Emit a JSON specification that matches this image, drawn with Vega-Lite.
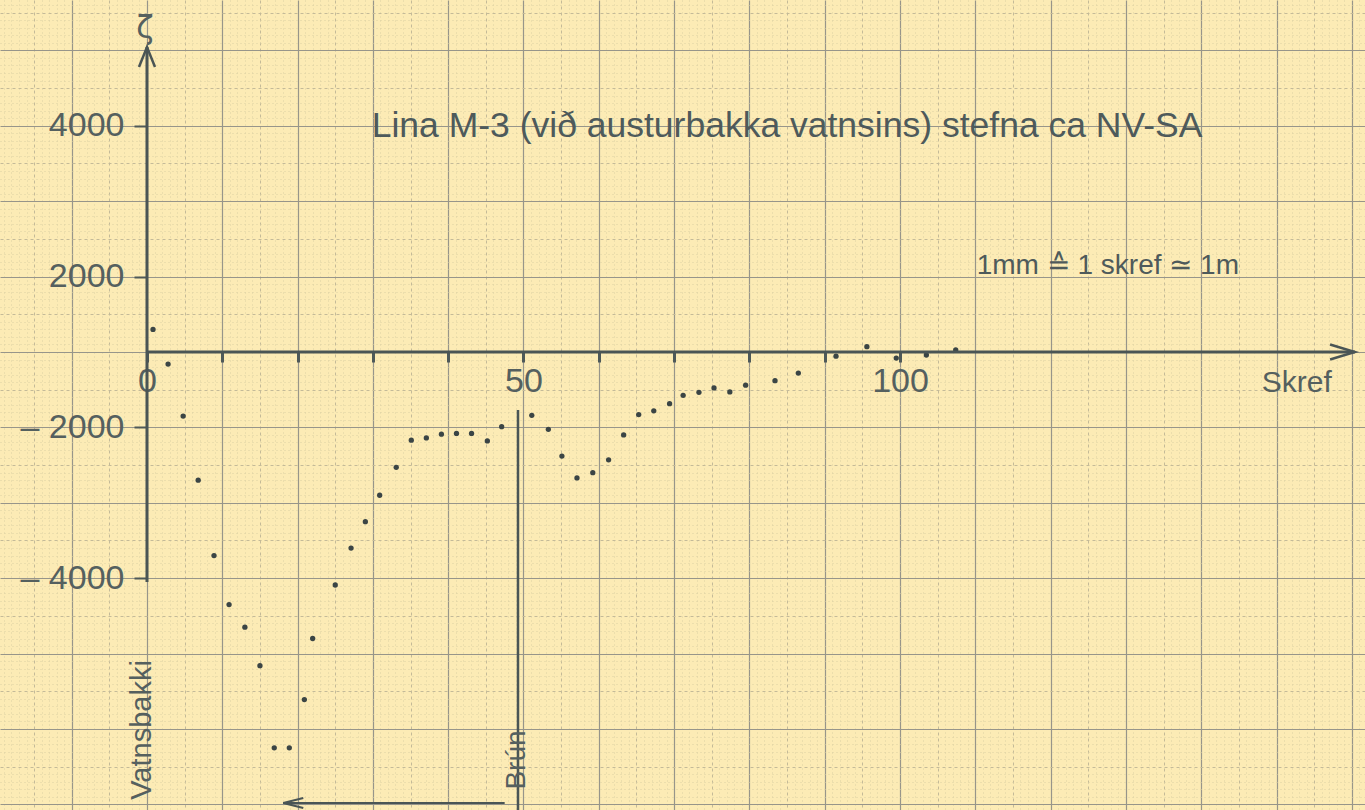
{
  "$schema": "https://vega.github.io/schema/vega-lite/v6.json",
  "width": 1365,
  "height": 810,
  "autosize": "none",
  "padding": 0,
  "background": "#fcebb5",
  "config": {"view": {"stroke": null}},
  "datasets": {
    "pts": [
      {"skref": 0.8, "zeta": 300}, {"skref": 2.8, "zeta": -160}, {"skref": 4.8, "zeta": -850},
      {"skref": 6.8, "zeta": -1700}, {"skref": 8.9, "zeta": -2700}, {"skref": 10.9, "zeta": -3350},
      {"skref": 13.0, "zeta": -3650}, {"skref": 15.0, "zeta": -4160}, {"skref": 16.9, "zeta": -5250},
      {"skref": 18.9, "zeta": -5250}, {"skref": 20.9, "zeta": -4610}, {"skref": 22.0, "zeta": -3800},
      {"skref": 25.0, "zeta": -3090}, {"skref": 27.1, "zeta": -2600}, {"skref": 29.0, "zeta": -2250},
      {"skref": 30.9, "zeta": -1900}, {"skref": 33.1, "zeta": -1530}, {"skref": 35.1, "zeta": -1170},
      {"skref": 37.1, "zeta": -1140}, {"skref": 39.1, "zeta": -1090}, {"skref": 41.1, "zeta": -1080},
      {"skref": 43.1, "zeta": -1080}, {"skref": 45.2, "zeta": -1180}, {"skref": 47.1, "zeta": -990},
      {"skref": 51.1, "zeta": -840}, {"skref": 53.3, "zeta": -1025}, {"skref": 55.1, "zeta": -1380},
      {"skref": 57.1, "zeta": -1670}, {"skref": 59.2, "zeta": -1600}, {"skref": 61.3, "zeta": -1430},
      {"skref": 63.3, "zeta": -1100}, {"skref": 65.3, "zeta": -830}, {"skref": 67.3, "zeta": -780},
      {"skref": 69.4, "zeta": -685}, {"skref": 71.2, "zeta": -575}, {"skref": 73.3, "zeta": -535},
      {"skref": 75.3, "zeta": -477}, {"skref": 77.4, "zeta": -530}, {"skref": 79.5, "zeta": -440},
      {"skref": 83.4, "zeta": -380}, {"skref": 86.5, "zeta": -280}, {"skref": 91.5, "zeta": -55},
      {"skref": 95.6, "zeta": 70}, {"skref": 99.5, "zeta": -80}, {"skref": 103.5, "zeta": -40},
      {"skref": 107.4, "zeta": 27}
    ]
  },
  "resolve": {"axis": {"x": "independent", "y": "independent"}},
  "layer": [
    {
      "data": {"name": "pts"},
      "mark": {"type": "point", "opacity": 0},
      "encoding": {
        "x": {
          "field": "skref", "type": "quantitative",
          "scale": {"domain": [-19.52, 161.75], "nice": false, "zero": false},
          "axis": {
            "orient": "bottom", "title": null, "labels": false, "ticks": false, "domain": false,
            "grid": true,
            "values": [-20,-19,-18,-17,-16,-15,-14,-13,-12,-11,-10,-9,-8,-7,-6,-5,-4,-3,-2,-1,0,1,2,3,4,5,6,7,8,9,10,11,12,13,14,15,16,17,18,19,20,21,22,23,24,25,26,27,28,29,30,31,32,33,34,35,36,37,38,39,40,41,42,43,44,45,46,47,48,49,50,51,52,53,54,55,56,57,58,59,60,61,62,63,64,65,66,67,68,69,70,71,72,73,74,75,76,77,78,79,80,81,82,83,84,85,86,87,88,89,90,91,92,93,94,95,96,97,98,99,100,101,102,103,104,105,106,107,108,109,110,111,112,113,114,115,116,117,118,119,120,121,122,123,124,125,126,127,128,129,130,131,132,133,134,135,136,137,138,139,140,141,142,143,144,145,146,147,148,149,150,151,152,153,154,155,156,157,158,159,160,161,162],
            "gridColor": {"condition": [{"test": "datum.value % 10 === 0", "value": "#97958a"}, {"test": "datum.value % 5 === 0", "value": "#c4ba98"}], "value": "#ddd1a2"},
            "gridDash": {"condition": [{"test": "datum.value % 10 === 0", "value": []}, {"test": "datum.value % 5 === 0", "value": [3, 3]}], "value": [1, 3]},
            "gridWidth": {"condition": [{"test": "datum.value % 10 === 0", "value": 1.2}], "value": 1},
            "gridOpacity": 1
          }
        },
        "y": {
          "field": "zeta", "type": "quantitative",
          "scale": {"domain": [-6074.3, 4668.4], "nice": false, "zero": false},
          "axis": {
            "orient": "left", "title": null, "labels": false, "ticks": false, "domain": false,
            "grid": true,
            "values": [-6100,-6000,-5900,-5800,-5700,-5600,-5500,-5400,-5300,-5200,-5100,-5000,-4900,-4800,-4700,-4600,-4500,-4400,-4300,-4200,-4100,-4000,-3900,-3800,-3700,-3600,-3500,-3400,-3300,-3200,-3100,-3000,-2900,-2800,-2700,-2600,-2500,-2400,-2300,-2200,-2100,-2000,-1900,-1800,-1700,-1600,-1500,-1400,-1300,-1200,-1100,-1000,-900,-800,-700,-600,-500,-400,-300,-200,-100,0,100,200,300,400,500,600,700,800,900,1000,1100,1200,1300,1400,1500,1600,1700,1800,1900,2000,2100,2200,2300,2400,2500,2600,2700,2800,2900,3000,3100,3200,3300,3400,3500,3600,3700,3800,3900,4000,4100,4200,4300,4400,4500,4600,4700],
            "gridColor": {"condition": [{"test": "datum.value % 1000 === 0", "value": "#97958a"}, {"test": "datum.value % 500 === 0", "value": "#c4ba98"}], "value": "#ddd1a2"},
            "gridDash": {"condition": [{"test": "datum.value % 1000 === 0", "value": []}, {"test": "datum.value % 500 === 0", "value": [3, 3]}], "value": [1, 3]},
            "gridWidth": {"condition": [{"test": "datum.value % 1000 === 0", "value": 1.2}], "value": 1},
            "gridOpacity": 1
          }
        }
      }
    },
    {
      "data": {"name": "pts"},
      "mark": {"type": "circle", "color": "#3b4545", "size": 28, "opacity": 1},
      "encoding": {
        "x": {
          "field": "skref", "type": "quantitative",
          "scale": {"domain": [-19.52, 161.75], "nice": false, "zero": false},
          "axis": {
            "orient": "bottom", "offset": -458, "title": null, "domain": false, "grid": false,
            "values": [0, 10, 20, 30, 40, 50, 60, 70, 80, 90, 100],
            "labelExpr": "datum.value == 0 || datum.value == 50 || datum.value == 100 ? datum.label : ''",
            "labelOverlap": false, "labelFlush": false, "labelBound": false,
            "tickSize": 10, "tickWidth": 3, "tickColor": "#4e5959",
            "labelFont": "Liberation Sans", "labelFontSize": 34, "labelColor": "#55605f", "labelPadding": 2
          }
        },
        "y": {
          "field": "zeta", "type": "quantitative",
          "scale": {"domain": [-6074.3, 4668.4], "nice": false, "zero": false},
          "axis": {
            "orient": "left", "offset": -147, "title": null, "domain": false, "grid": false,
            "values": [3000, 1000, -1000, -3000],
            "labelExpr": "datum.value == 3000 ? '4000' : datum.value == 1000 ? '2000' : datum.value == -1000 ? '–  2000' : '–  4000'",
            "labelOverlap": false, "labelFlush": false, "labelBound": false,
            "tickSize": 13, "tickWidth": 2, "tickColor": "#4e5959",
            "labelFont": "Liberation Sans", "labelFontSize": 34, "labelColor": "#55605f", "labelPadding": 10
          }
        }
      }
    },
    {
      "data": {"values": [{}]},
      "mark": {"type": "rule", "color": "#4a5555", "strokeWidth": 3},
      "encoding": {
        "x": {"datum": 0, "type": "quantitative", "scale": {"domain": [-19.52, 161.75], "nice": false, "zero": false}, "axis": null},
        "x2": {"datum": 160.4},
        "y": {"datum": 0, "type": "quantitative", "scale": {"domain": [-6074.3, 4668.4], "nice": false, "zero": false}, "axis": null}
      }
    },
    {
      "data": {"values": [{}]},
      "mark": {"type": "rule", "color": "#4a5555", "strokeWidth": 3},
      "encoding": {
        "x": {"datum": 0, "type": "quantitative", "scale": {"domain": [-19.52, 161.75], "nice": false, "zero": false}, "axis": null},
        "y": {"datum": -3050, "type": "quantitative", "scale": {"domain": [-6074.3, 4668.4], "nice": false, "zero": false}, "axis": null},
        "y2": {"datum": 4045}
      }
    },
    {
      "data": {"values": [{}]},
      "mark": {"type": "rule", "color": "#4a5555", "strokeWidth": 2.5},
      "encoding": {
        "x": {"datum": 49.27, "type": "quantitative", "scale": {"domain": [-19.52, 161.75], "nice": false, "zero": false}, "axis": null},
        "y": {"datum": -6100, "type": "quantitative", "scale": {"domain": [-6074.3, 4668.4], "nice": false, "zero": false}, "axis": null},
        "y2": {"datum": -770}
      }
    },
    {
      "data": {"values": [{}]},
      "mark": {"type": "rule", "color": "#4a5555", "strokeWidth": 2},
      "encoding": {
        "x": {"datum": 18.1, "type": "quantitative", "scale": {"domain": [-19.52, 161.75], "nice": false, "zero": false}, "axis": null},
        "x2": {"datum": 47.5},
        "y": {"datum": -5981, "type": "quantitative", "scale": {"domain": [-6074.3, 4668.4], "nice": false, "zero": false}, "axis": null}
      }
    },
    {
      "data": {"values": [{}]},
      "mark": {"type": "point", "shape": "M -1 2.5 L 0 0 L 1 2.5", "filled": false, "stroke": "#4a5555", "strokeWidth": 2.5, "size": 256, "opacity": 1},
      "encoding": {
        "x": {"datum": 0, "type": "quantitative", "scale": {"domain": [-19.52, 161.75], "nice": false, "zero": false}, "axis": null},
        "y": {"datum": 4045, "type": "quantitative", "scale": {"domain": [-6074.3, 4668.4], "nice": false, "zero": false}, "axis": null}
      }
    },
    {
      "data": {"values": [{}]},
      "mark": {"type": "point", "shape": "M -3.3 -1 L 0 0 L -3.3 1", "filled": false, "stroke": "#4a5555", "strokeWidth": 2.5, "size": 225, "opacity": 1},
      "encoding": {
        "x": {"datum": 160.4, "type": "quantitative", "scale": {"domain": [-19.52, 161.75], "nice": false, "zero": false}, "axis": null},
        "y": {"datum": 0, "type": "quantitative", "scale": {"domain": [-6074.3, 4668.4], "nice": false, "zero": false}, "axis": null}
      }
    },
    {
      "data": {"values": [{}]},
      "mark": {"type": "point", "shape": "M 4 -1 L 0 0 L 4 1", "filled": false, "stroke": "#4a5555", "strokeWidth": 2, "size": 100, "opacity": 1},
      "encoding": {
        "x": {"datum": 18.1, "type": "quantitative", "scale": {"domain": [-19.52, 161.75], "nice": false, "zero": false}, "axis": null},
        "y": {"datum": -5981, "type": "quantitative", "scale": {"domain": [-6074.3, 4668.4], "nice": false, "zero": false}, "axis": null}
      }
    },
    {
      "data": {"values": [{}]},
      "mark": {"type": "text", "text": "Lina M-3 (við austurbakka vatnsins) stefna ca NV-SA", "font": "Liberation Sans", "fontSize": 35.5, "color": "#4e5a5b", "align": "center", "baseline": "middle"},
      "encoding": {
        "x": {"datum": 85.0, "type": "quantitative", "scale": {"domain": [-19.52, 161.75], "nice": false, "zero": false}, "axis": null},
        "y": {"datum": 2997, "type": "quantitative", "scale": {"domain": [-6074.3, 4668.4], "nice": false, "zero": false}, "axis": null}
      }
    },
    {
      "data": {"values": [{}]},
      "mark": {"type": "text", "text": "1mm ≙ 1 skref ≃ 1m", "font": "Liberation Sans", "fontSize": 28, "color": "#4e5a5b", "align": "center", "baseline": "middle"},
      "encoding": {
        "x": {"datum": 127.6, "type": "quantitative", "scale": {"domain": [-19.52, 161.75], "nice": false, "zero": false}, "axis": null},
        "y": {"datum": 1140, "type": "quantitative", "scale": {"domain": [-6074.3, 4668.4], "nice": false, "zero": false}, "axis": null}
      }
    },
    {
      "data": {"values": [{}]},
      "mark": {"type": "text", "text": "Skref", "font": "Liberation Sans", "fontSize": 30, "color": "#55605f", "align": "center", "baseline": "middle"},
      "encoding": {
        "x": {"datum": 152.7, "type": "quantitative", "scale": {"domain": [-19.52, 161.75], "nice": false, "zero": false}, "axis": null},
        "y": {"datum": -411, "type": "quantitative", "scale": {"domain": [-6074.3, 4668.4], "nice": false, "zero": false}, "axis": null}
      }
    },
    {
      "data": {"values": [{}]},
      "mark": {"type": "text", "text": "ζ", "font": "DejaVu Sans", "fontSize": 32, "color": "#55605f", "align": "center", "baseline": "middle"},
      "encoding": {
        "x": {"datum": -0.27, "type": "quantitative", "scale": {"domain": [-19.52, 161.75], "nice": false, "zero": false}, "axis": null},
        "y": {"datum": 4297, "type": "quantitative", "scale": {"domain": [-6074.3, 4668.4], "nice": false, "zero": false}, "axis": null}
      }
    },
    {
      "data": {"values": [{}]},
      "mark": {"type": "text", "text": "Vatnsbakki", "font": "Liberation Sans", "fontSize": 29, "color": "#55605f", "align": "center", "baseline": "middle", "angle": 270},
      "encoding": {
        "x": {"datum": -0.66, "type": "quantitative", "scale": {"domain": [-19.52, 161.75], "nice": false, "zero": false}, "axis": null},
        "y": {"datum": -5013, "type": "quantitative", "scale": {"domain": [-6074.3, 4668.4], "nice": false, "zero": false}, "axis": null}
      }
    },
    {
      "data": {"values": [{}]},
      "mark": {"type": "text", "text": "Brún", "font": "Liberation Sans", "fontSize": 28, "color": "#55605f", "align": "center", "baseline": "middle", "angle": 270},
      "encoding": {
        "x": {"datum": 49.1, "type": "quantitative", "scale": {"domain": [-19.52, 161.75], "nice": false, "zero": false}, "axis": null},
        "y": {"datum": -5411, "type": "quantitative", "scale": {"domain": [-6074.3, 4668.4], "nice": false, "zero": false}, "axis": null}
      }
    }
  ]
}
